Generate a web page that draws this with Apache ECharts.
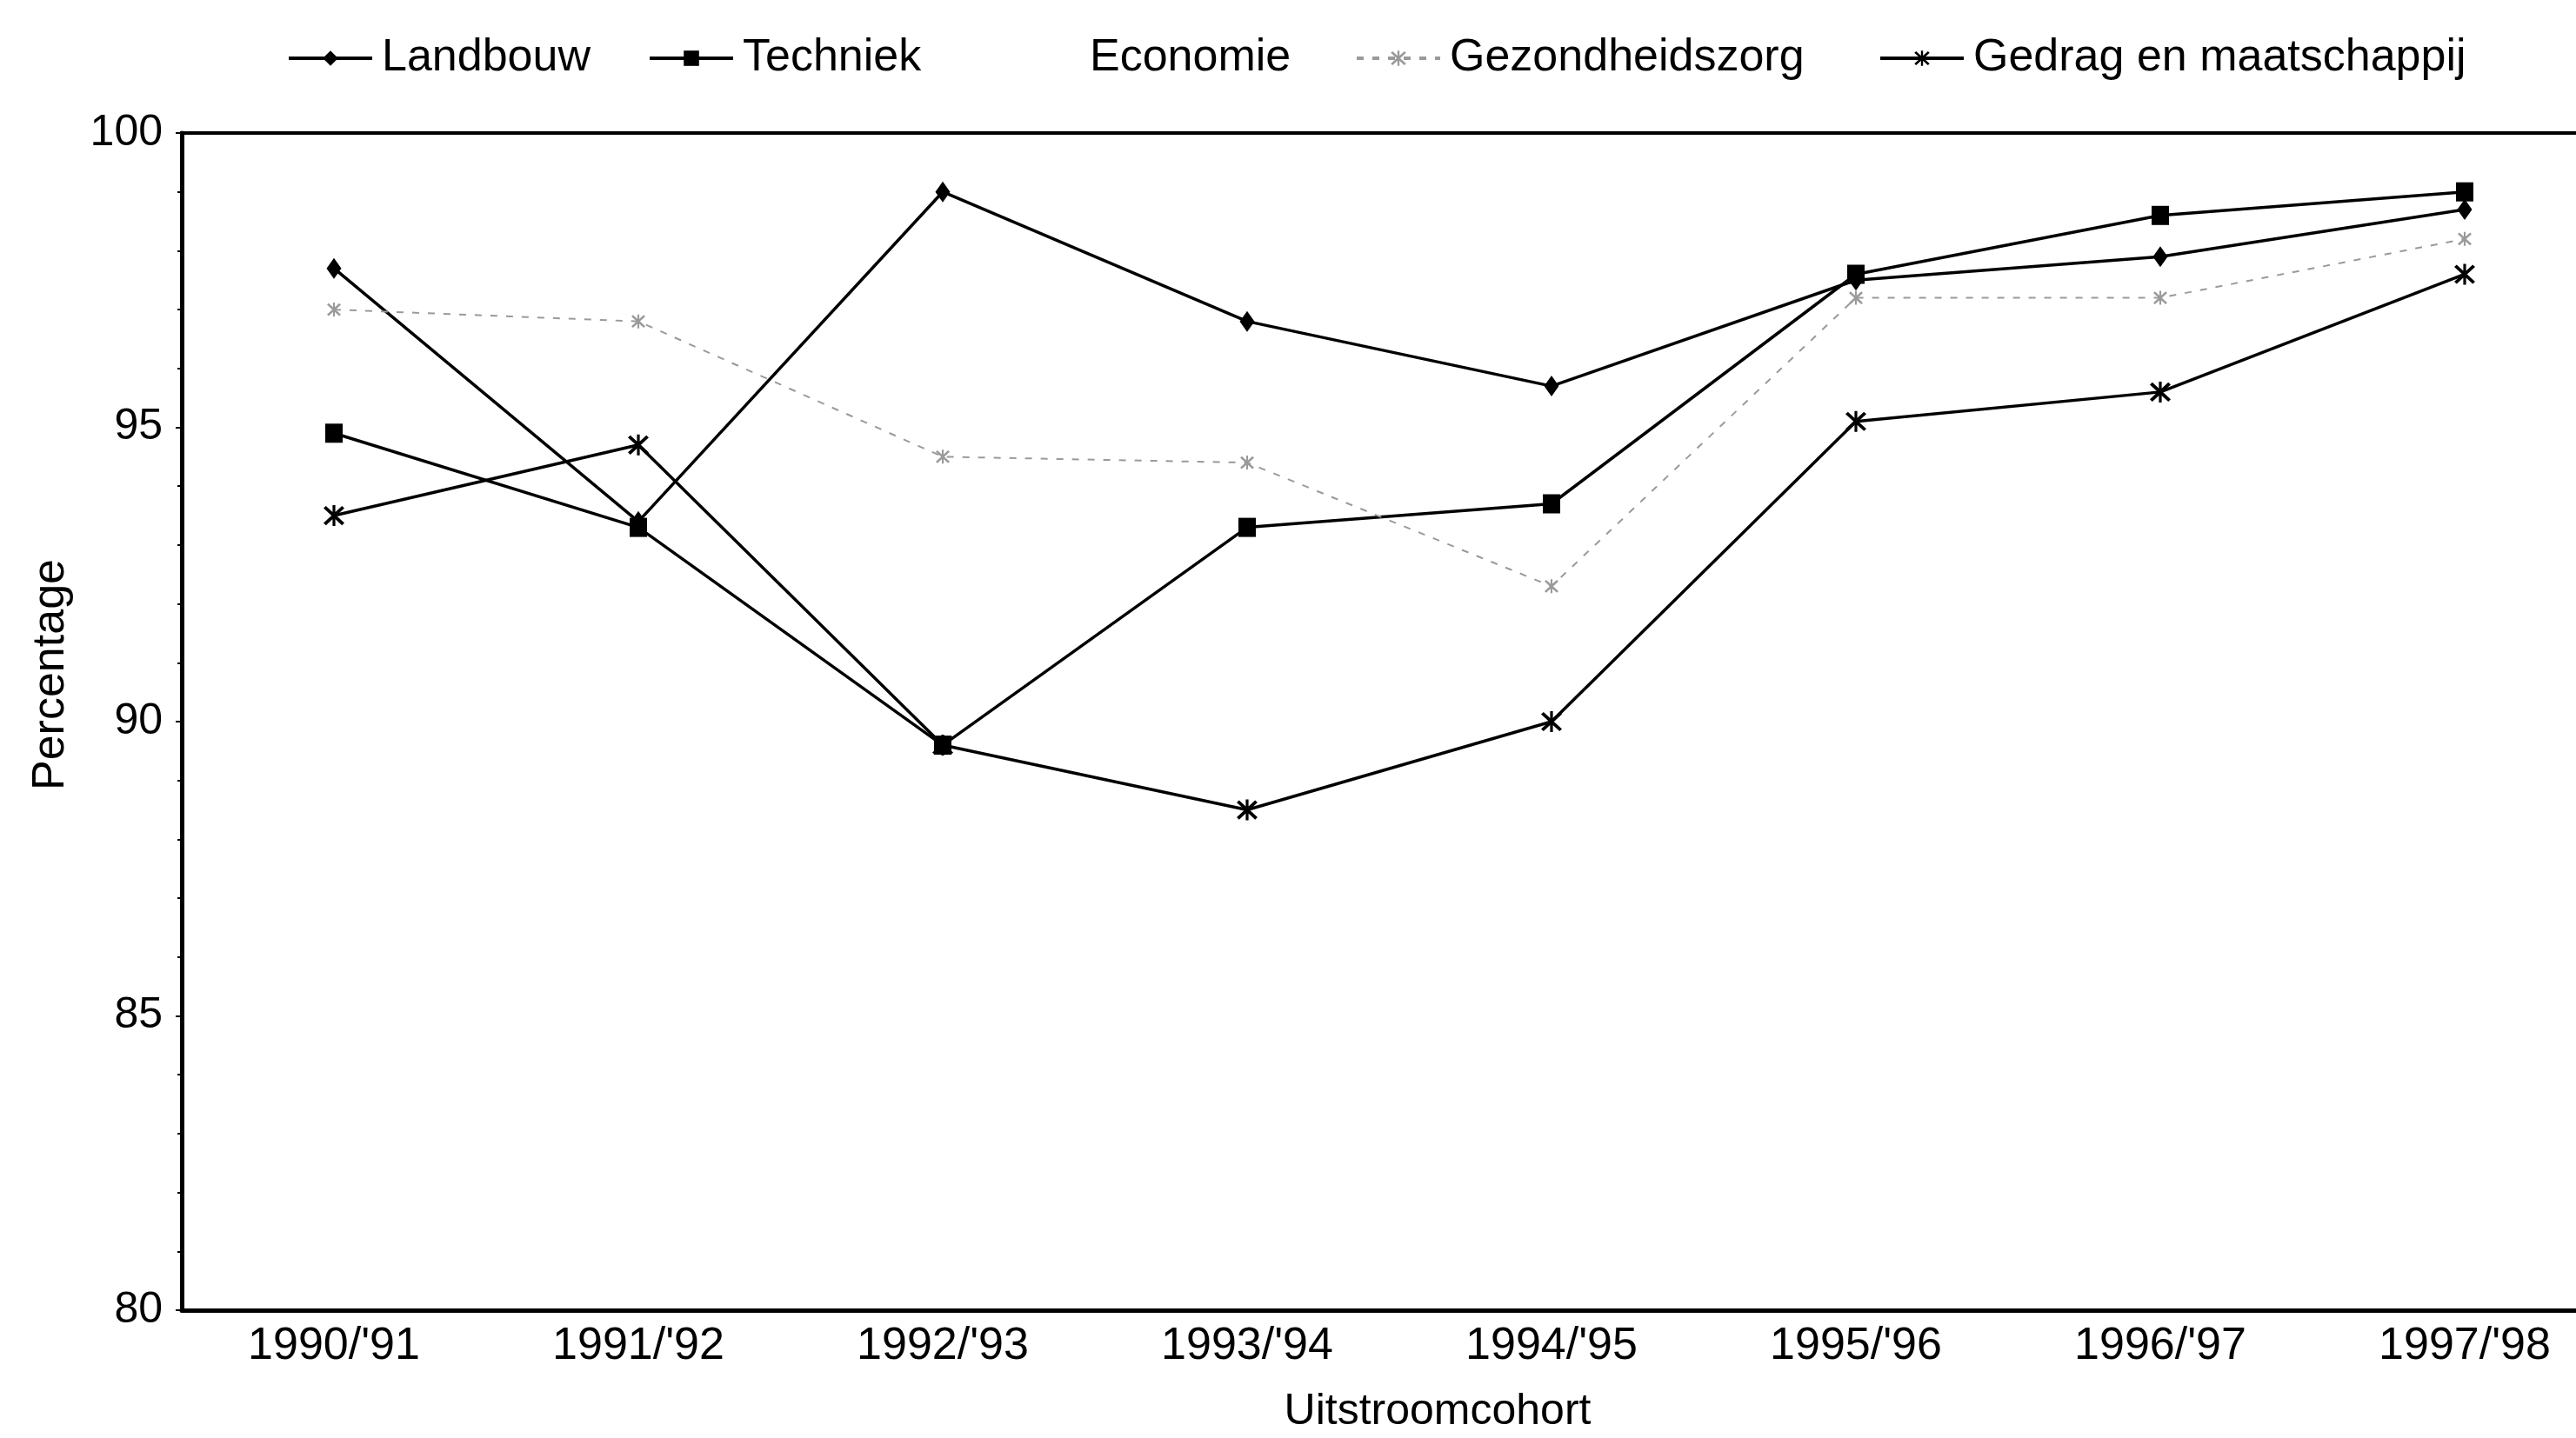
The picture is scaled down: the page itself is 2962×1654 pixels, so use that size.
<!DOCTYPE html>
<html>
<head>
<meta charset="utf-8">
<title>Uitstroomcohort</title>
<script src="https://cdn.jsdelivr.net/npm/echarts@6/dist/echarts.min.js"></script>
<style>
  html, body { margin: 0; padding: 0; background: #fff; overflow: hidden; }
  /* iets breder dan het venster: de rechterrand van de grafiek valt weg, zoals in het origineel */
  #chart { width: 3012px; height: 1654px; }
</style>
</head>
<body>
<div id="chart"></div>
<script>
// categorieen (x-as)
var cohorts = ["1990/'91", "1991/'92", "1992/'93", "1993/'94", "1994/'95", "1995/'96", "1996/'97", "1997/'98"];

// percentages per sector
var landbouw = [97.7, 93.4, 99.0, 96.8, 95.7, 97.5, 97.9, 98.7];
var techniek = [94.9, 93.3, 89.6, 93.3, 93.7, 97.6, 98.6, 99.0];
// Economie is in de figuur niet zichtbaar
var economie = [null, null, null, null, null, null, null, null];
var gezondheidszorg = [97.0, 96.8, 94.5, 94.4, 92.3, 97.2, 97.2, 98.2];
var gedrag = [93.5, 94.7, 89.6, 88.5, 90.0, 95.1, 95.6, 97.6];

var yTicks = [80, 85, 90, 95, 100];

var FONT = 'Liberation Sans';

// asterisk (x met verticale streep)
var asterisk = 'path://M-6,-4.6 L-4.6,-6 L6,4.6 L4.6,6 Z M4.6,-6 L6,-4.6 L-4.6,6 L-6,4.6 Z M-0.8,-6.5 L0.8,-6.5 L0.8,6.5 L-0.8,6.5 Z';

var chart = echarts.init(document.getElementById('chart'), null, { renderer: 'canvas' });

function legendAt(name, left) {
  return {
    data: [name],
    left: left,
    top: 36,
    itemWidth: 96,
    itemHeight: 22,
    itemGap: 20,
    lineStyle: { width: 4 },
    textStyle: { fontFamily: FONT, fontSize: 52, color: '#000', padding: [0, 0, 0, 6] }
  };
}

var option = {
  backgroundColor: '#fff',
  animation: false,
  legend: [
    legendAt('Landbouw', 325),
    legendAt('Techniek', 740),
    legendAt('Economie', 1139),
    legendAt('Gezondheidszorg', 1553),
    legendAt('Gedrag en maatschappij', 2155)
  ],
  grid: {
    left: 209,
    top: 153,
    width: 2800,
    bottom: 146,
    show: true,
    borderColor: '#000',
    borderWidth: 4,
    backgroundColor: 'transparent'
  },
  xAxis: {
    type: 'category',
    data: cohorts,
    boundaryGap: true,
    name: 'Uitstroomcohort',
    nameLocation: 'middle',
    nameGap: 92,
    nameTextStyle: { fontFamily: FONT, fontSize: 50, color: '#000', padding: [0, 0, 0, 88] },
    axisLine: { lineStyle: { color: '#000', width: 5 } },
    axisTick: { show: false },
    axisLabel: { fontFamily: FONT, fontSize: 52, color: '#000', margin: 16 },
    splitLine: { show: false }
  },
  yAxis: {
    type: 'value',
    min: yTicks[0],
    max: yTicks[yTicks.length - 1],
    interval: 5,
    name: 'Percentage',
    nameLocation: 'middle',
    nameGap: 124,
    nameTextStyle: { fontFamily: FONT, fontSize: 52, color: '#000', padding: [0, 0, 0, 108] },
    axisLine: { show: true, lineStyle: { color: '#000', width: 5 } },
    axisTick: { show: true, length: 7, lineStyle: { color: '#000', width: 2 } },
    minorTick: { show: true, splitNumber: 5, length: 5, lineStyle: { color: '#000', width: 2 } },
    axisLabel: { fontFamily: FONT, fontSize: 50, color: '#000', margin: 22 },
    splitLine: { show: false }
  },
  series: [
    {
      name: 'Landbouw',
      type: 'line',
      data: landbouw,
      symbol: 'diamond',
      symbolSize: [17, 24],
      itemStyle: { color: '#000' },
      lineStyle: { color: '#000', width: 3.5 }
    },
    {
      name: 'Techniek',
      type: 'line',
      data: techniek,
      symbol: 'rect',
      symbolSize: [20, 22],
      itemStyle: { color: '#000' },
      lineStyle: { color: '#000', width: 3.5 }
    },
    {
      name: 'Economie',
      type: 'line',
      data: economie,
      symbol: 'none',
      itemStyle: { color: 'rgba(255,255,255,0)' },
      lineStyle: { color: 'rgba(255,255,255,0)', width: 0 }
    },
    {
      name: 'Gezondheidszorg',
      type: 'line',
      data: gezondheidszorg,
      symbol: asterisk,
      symbolSize: 16,
      itemStyle: { color: '#9a9a9a' },
      lineStyle: { color: '#9a9a9a', width: 2, type: [8, 10] }
    },
    {
      name: 'Gedrag en maatschappij',
      type: 'line',
      data: gedrag,
      symbol: asterisk,
      symbolSize: 24,
      itemStyle: { color: '#000' },
      lineStyle: { color: '#000', width: 3.5 }
    }
  ]
};

chart.setOption(option);
</script>
</body>
</html>
